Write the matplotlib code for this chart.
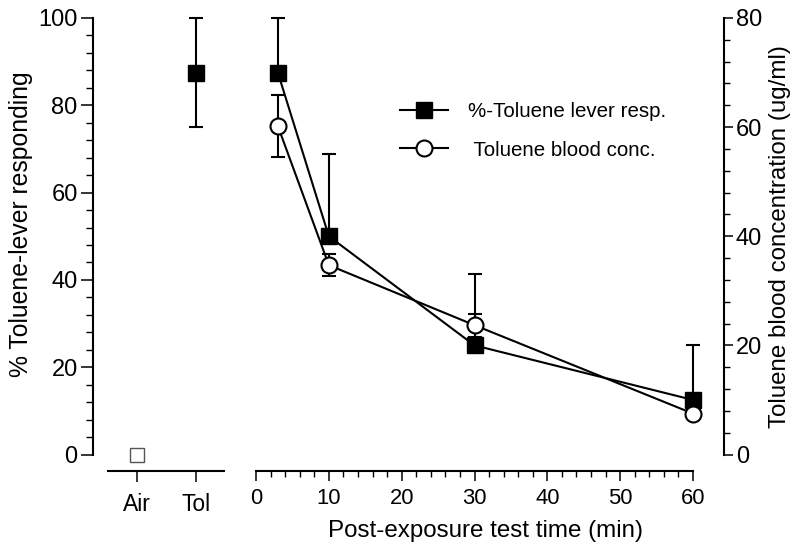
import matplotlib
matplotlib.use('Agg')
import matplotlib.pyplot as plt
from matplotlib.ticker import MultipleLocator, FixedLocator
from matplotlib.lines import Line2D

plt.rcParams['font.family'] = ['Liberation Sans', 'DejaVu Sans']

# ---- data ----
ctrl_labels = ['Air', 'Tol']
ctrl_resp = [0, 87.5]
ctrl_err = [0, 12.5]

times = [3, 10, 30, 60]
lever_resp = [87.5, 50, 25, 12.5]
lever_err_up = [12.5, 18.75, 16.25, 12.5]
blood_conc = [60.2, 34.7, 23.7, 7.5]
blood_err = [5.7, 2.0, 2.1, 0.8]

legend_labels = ['%-Toluene lever resp.', ' Toluene blood conc.']
xlabel = 'Post-exposure test time (min)'
ylabel_left = '% Toluene-lever responding'
ylabel_right = 'Toluene blood concentration (ug/ml)'

W, H = 800, 558
fig = plt.figure(figsize=(W / 100, H / 100), dpi=100)

def fx(px):
    return px / W

bottom = 1 - 454.5 / H
top = 1 - 18 / H
hgt = top - bottom

FS_YT = 17
FS_XT = 15.8
FS_CAT = 16.5
LW = 1.5
MS = 11.5
CAP = 5
spine_off = 11.9

# ---- left panel (controls) ----
axL = fig.add_axes([fx(93), bottom, fx(224 - 93), hgt])
axL.set_xlim(-0.746, 1.475)
axL.set_ylim(0, 100)
for s in ['top', 'right']:
    axL.spines[s].set_visible(False)
axL.spines['bottom'].set_position(('outward', spine_off))
axL.spines['bottom'].set_bounds(-0.4915, 1.475)
for s in ['left', 'bottom']:
    axL.spines[s].set_linewidth(LW)
axL.set_xticks(range(len(ctrl_labels)))
axL.set_xticklabels(ctrl_labels, fontsize=FS_CAT)
axL.yaxis.set_major_locator(MultipleLocator(20))
axL.yaxis.set_minor_locator(MultipleLocator(4))
axL.tick_params(axis='y', which='major', direction='out', length=8.5, width=1.1, labelsize=FS_YT, pad=2.5)
axL.tick_params(axis='y', which='minor', direction='out', length=5, width=1.0)
axL.tick_params(axis='x', which='major', direction='out', length=8, width=1.1, pad=8)
axL.set_ylabel(ylabel_left, fontsize=17.8)
axL.yaxis.set_label_coords((33 - 93) / 131, (454.5 - 224) / 436.5)

# Air (open square, no error)
axL.plot([0], [ctrl_resp[0]], marker='s', ms=10.5, mfc='white', mec='#555555', mew=1.0,
         ls='none', clip_on=False, zorder=5)
# Tol
axL.errorbar([1], [ctrl_resp[1]], yerr=[[ctrl_err[1]], [ctrl_err[1]]], fmt='s', ms=MS,
             mfc='black', mec='black', ecolor='black', elinewidth=LW, capsize=CAP,
             capthick=LW, clip_on=False, zorder=5)

# ---- right panel (time course) ----
ax = fig.add_axes([fx(256), bottom, fx(724 - 256), hgt])
ax.set_xlim(0, (724 - 256) / ((693 - 256) / 60))
ax.set_ylim(0, 100)

ax.errorbar(times, lever_resp, yerr=[[0] * len(times), lever_err_up], fmt='-s', color='black',
            lw=LW, ms=MS, mfc='black', mec='black', elinewidth=LW, capsize=CAP, capthick=LW,
            clip_on=False, zorder=4)

ax2 = ax.twinx()
ax2.set_ylim(0, 80)

for s in ['top', 'right', 'left']:
    ax.spines[s].set_visible(False)
ax.spines['bottom'].set_position(('outward', spine_off))
ax.spines['bottom'].set_bounds(0, 60)
ax.spines['bottom'].set_linewidth(LW)
ax.xaxis.set_major_locator(FixedLocator([0, 10, 20, 30, 40, 50, 60]))
ax.xaxis.set_minor_locator(FixedLocator([v for v in range(0, 61, 2) if v % 10]))
ax.tick_params(axis='x', which='major', direction='out', length=7.5, width=1.1, labelsize=FS_XT, pad=4.5)
ax.tick_params(axis='x', which='minor', direction='out', length=4.5, width=1.0)
ax.tick_params(axis='y', which='both', left=False, labelleft=False, right=False, labelright=False)
ax.set_xlabel(xlabel, fontsize=17.4, labelpad=8)
ax.xaxis.label.set_x((485 - 256) / 468)

for s in ['top', 'left', 'bottom']:
    ax2.spines[s].set_visible(False)
ax2.spines['right'].set_linewidth(LW)
ax2.yaxis.set_major_locator(MultipleLocator(20))
ax2.yaxis.set_minor_locator(MultipleLocator(4))
ax2.tick_params(axis='y', which='major', direction='out', length=6.5, width=1.1, labelsize=FS_YT, pad=2)
ax2.tick_params(axis='y', which='minor', direction='out', length=4.5, width=1.0)
ax2.set_ylabel(ylabel_right, fontsize=17.4, labelpad=5)

ax2.errorbar(times, blood_conc, yerr=blood_err, fmt='-o', color='black', lw=LW, ms=MS,
             mfc='white', mec='black', mew=LW, elinewidth=LW, capsize=CAP, capthick=LW,
             clip_on=False, zorder=6)

# legend
handles = [Line2D([], [], color='black', lw=LW, marker='s', ms=MS, mfc='black', mec='black'),
           Line2D([], [], color='black', lw=LW, marker='o', ms=MS, mfc='white', mec='black', mew=LW)]
leg = fig.legend(handles, legend_labels, loc='upper left',
                 bbox_to_anchor=(fx(400), 1 - 102 / H), bbox_transform=fig.transFigure,
                 frameon=False, fontsize=14.8, handlelength=2.35, handletextpad=0.95,
                 labelspacing=0.95, borderpad=0, borderaxespad=0)

fig.savefig('out.png', dpi=100)
